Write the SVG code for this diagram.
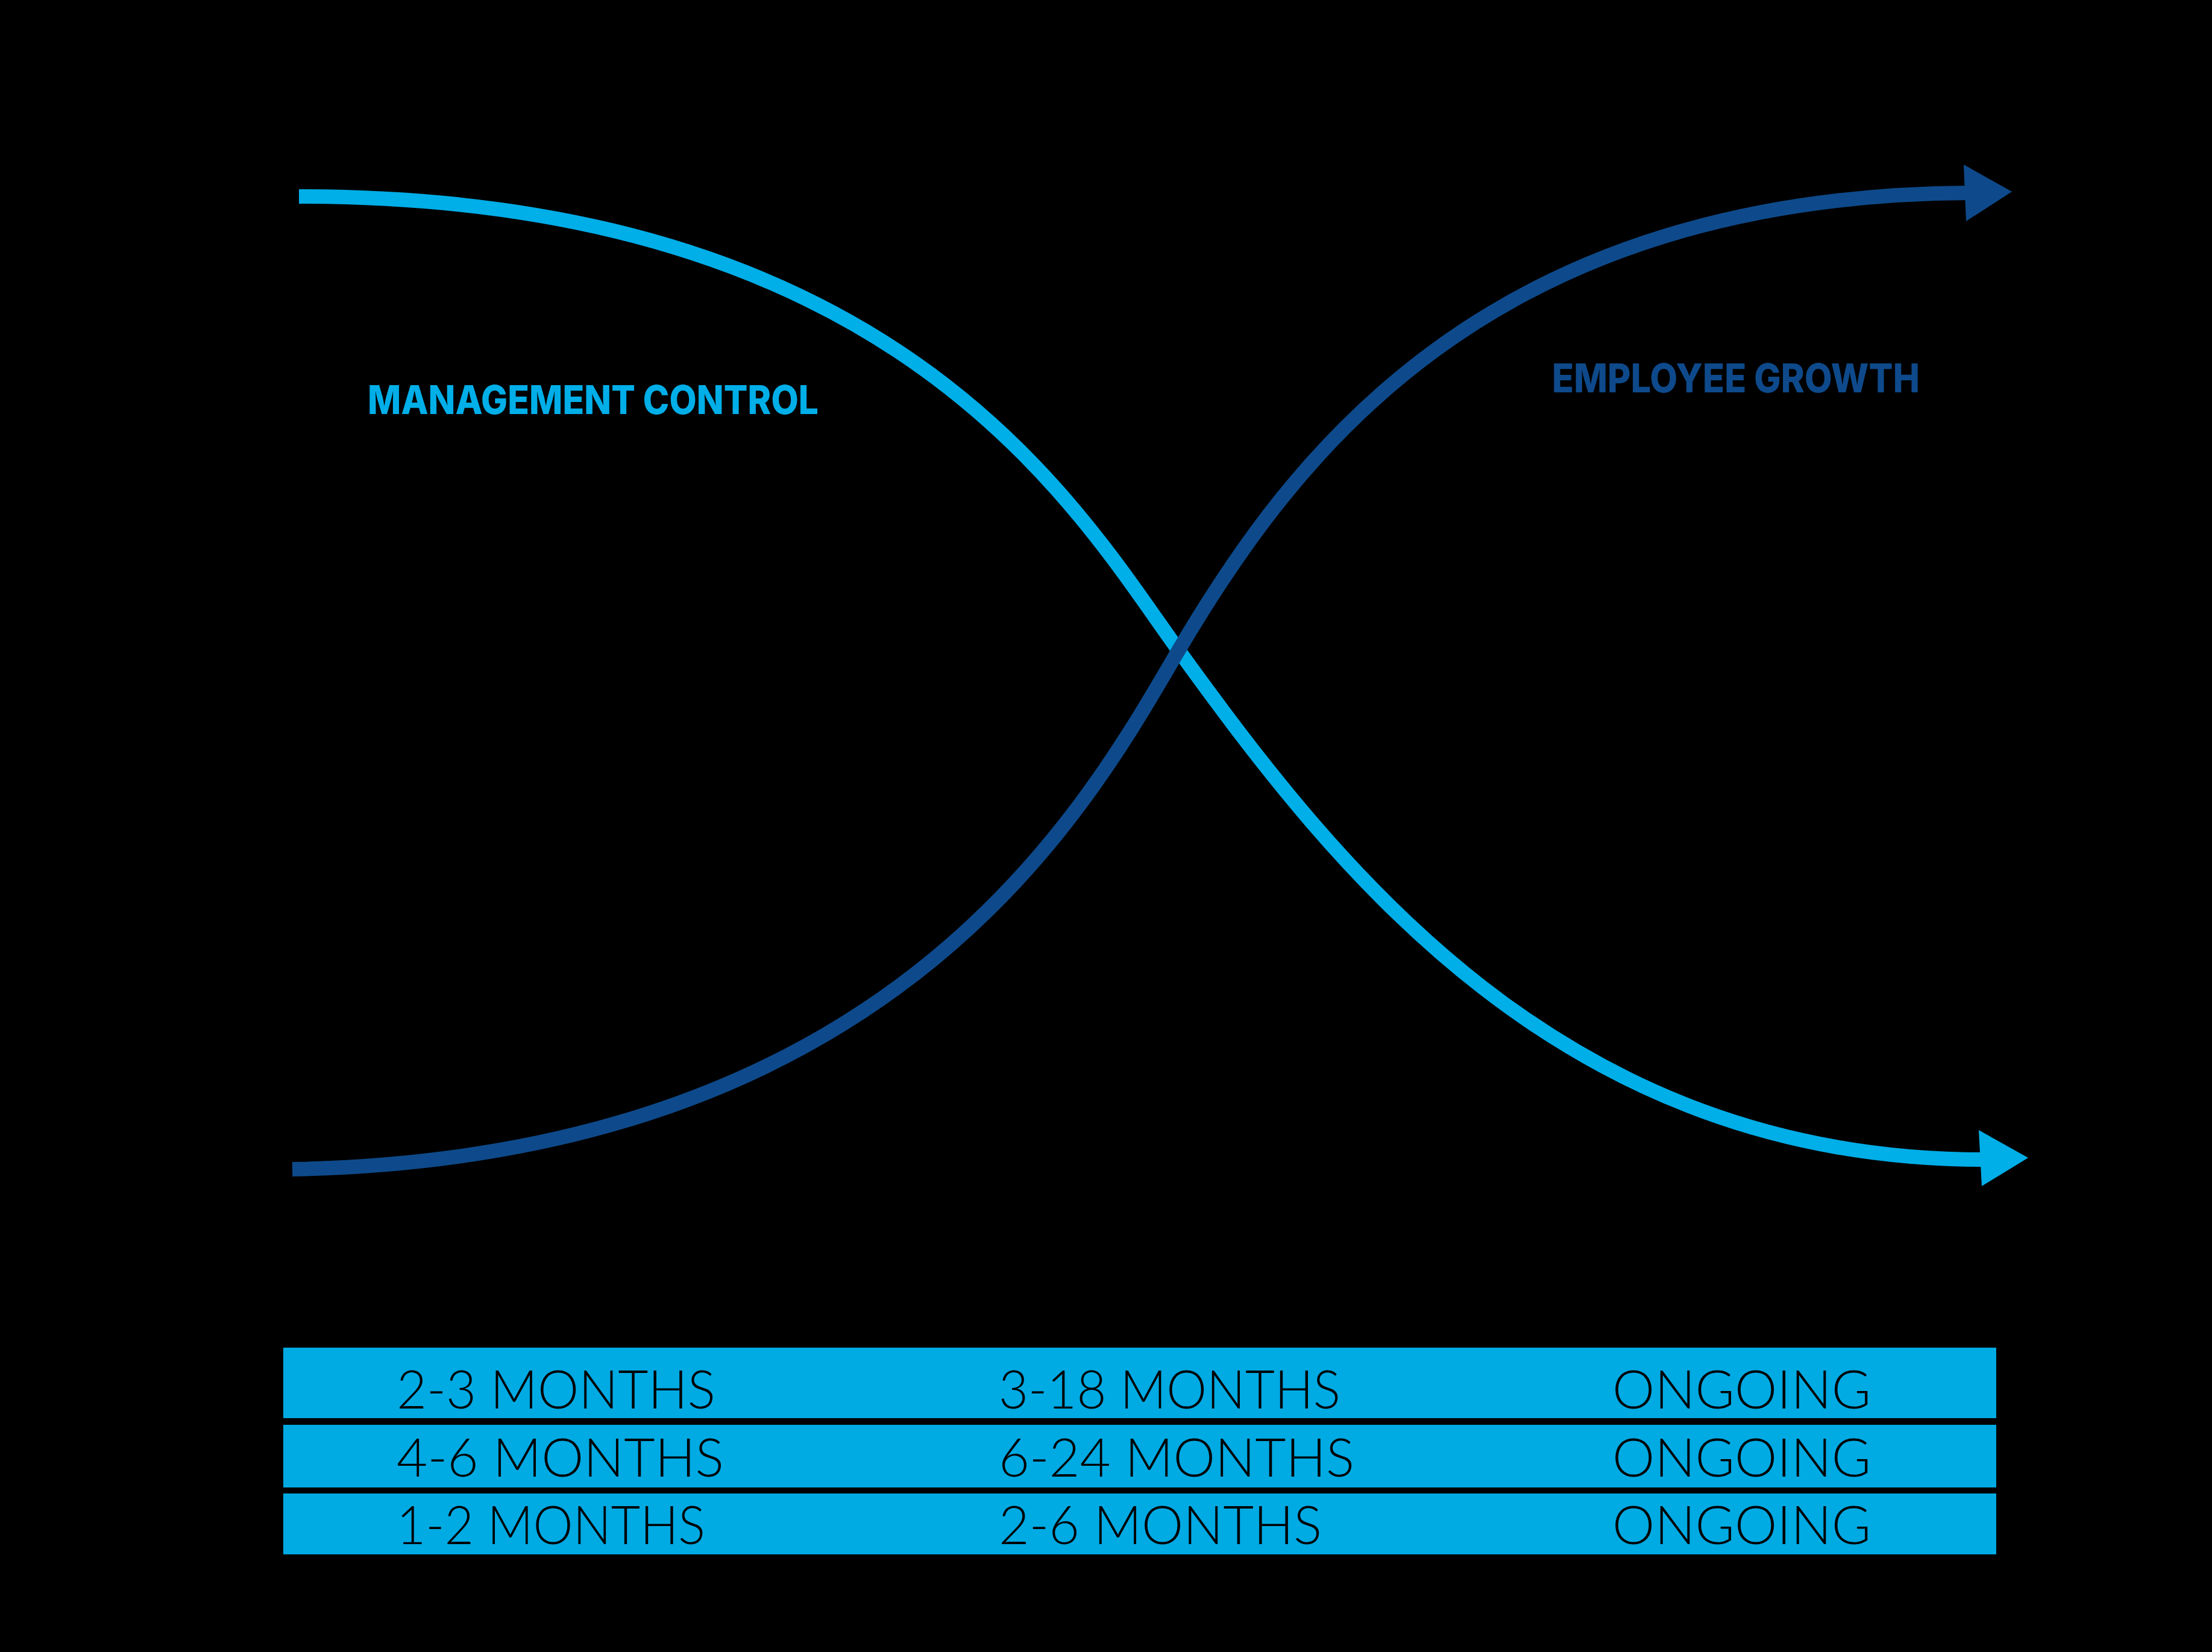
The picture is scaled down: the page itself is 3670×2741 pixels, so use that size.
<svg xmlns="http://www.w3.org/2000/svg" width="3670" height="2741" viewBox="0 0 3670 2741">
<style>
.curve{fill:none;stroke-width:24;stroke-linecap:butt;stroke-linejoin:round}
.light{stroke:#00AEE8}
.dark{stroke:#0E4A8B}
.lfill{fill:#00AEE8}
.dfill{fill:#0E4A8B}
.label{font-family:Inter,"Open Sans","Liberation Sans",sans-serif;font-weight:800;font-size:66px}
.row{fill:#00AAE3}
.cell{font-family:Lato,"Open Sans","Liberation Sans",sans-serif;font-weight:300;font-size:88px;fill:#000}
</style>
<rect x="0" y="0" width="3670" height="2741" fill="#000"/>
<g id="connectors">
<path class="curve light" d="M496,326 C1496,326 1789,850 1954,1077 C2218,1442 2589,1924 3292,1924"/>
<polygon class="lfill" points="3283,1875 3365,1921 3288,1968"/>
<path class="curve dark" d="M485,1940 C1485,1920 1801,1342 1953,1083 C2146,755 2466,325 3266,320"/>
<polygon class="dfill" points="3258,273 3338,318 3262,367"/>
</g>
<g id="label-management-control">
<text class="label" x="610" y="687" fill="#00AEE8" textLength="748" lengthAdjust="spacingAndGlyphs">MANAGEMENT CONTROL</text>
</g>
<g id="label-employee-growth">
<text class="label" x="2575" y="651" fill="#0E4A8B" textLength="610" lengthAdjust="spacingAndGlyphs">EMPLOYEE GROWTH</text>
</g>
<g id="row-1">
<rect class="row" x="470" y="2236" width="2842" height="117"/>
<text class="cell" x="658" y="2337" textLength="529" lengthAdjust="spacingAndGlyphs">2-3 MONTHS</text>
<text class="cell" x="1657" y="2337" textLength="567" lengthAdjust="spacingAndGlyphs">3-18 MONTHS</text>
<text class="cell" x="2675" y="2337" textLength="429" lengthAdjust="spacingAndGlyphs">ONGOING</text>
</g>
<g id="row-2">
<rect class="row" x="470" y="2364" width="2842" height="104"/>
<text class="cell" x="658" y="2450" textLength="543" lengthAdjust="spacingAndGlyphs">4-6 MONTHS</text>
<text class="cell" x="1657" y="2450" textLength="590" lengthAdjust="spacingAndGlyphs">6-24 MONTHS</text>
<text class="cell" x="2675" y="2450" textLength="429" lengthAdjust="spacingAndGlyphs">ONGOING</text>
</g>
<g id="row-3">
<rect class="row" x="470" y="2478" width="2842" height="101"/>
<text class="cell" x="658" y="2562" textLength="512" lengthAdjust="spacingAndGlyphs">1-2 MONTHS</text>
<text class="cell" x="1657" y="2562" textLength="536" lengthAdjust="spacingAndGlyphs">2-6 MONTHS</text>
<text class="cell" x="2675" y="2562" textLength="429" lengthAdjust="spacingAndGlyphs">ONGOING</text>
</g>
</svg>
